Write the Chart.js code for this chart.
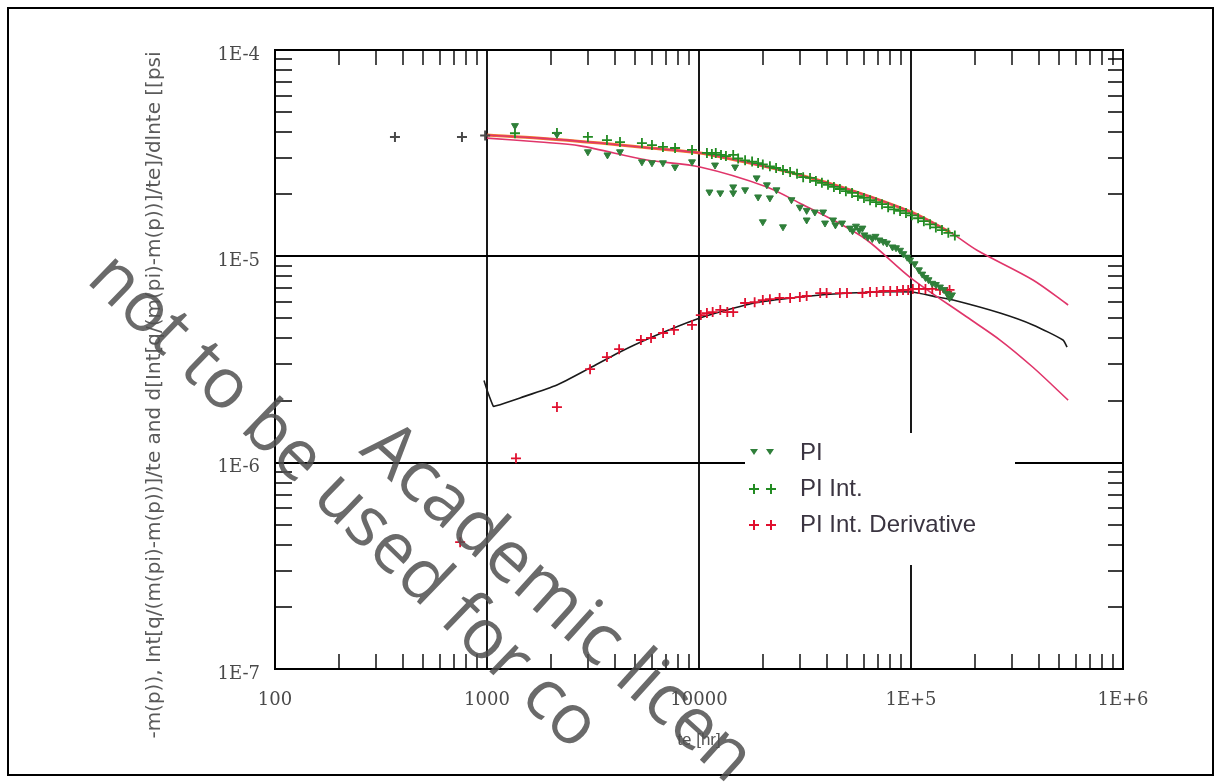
<!DOCTYPE html>
<html>
<head>
<meta charset="utf-8">
<script src="https://cdn.jsdelivr.net/npm/chart.js@4.4.1/dist/chart.umd.min.js"></script>
<style>
  html, body { margin: 0; padding: 0; background: #fff; }
  #wrap { width: 1221px; height: 783px; }
</style>
</head>
<body>
<div id="wrap"><canvas id="c" width="1221" height="783"></canvas></div>
<script>
// ---------- data ----------
const xTickValues = [100, 1000, 10000, 100000, 1000000];
const xTickLabels = ['100', '1000', '10000', '1E+5', '1E+6'];
const yTickValues = [1e-7, 1e-6, 1e-5, 1e-4];
const yTickLabels = ['1E-7', '1E-6', '1E-5', '1E-4'];

const xTitle = 'te [hr]';
const yTitle = '-m(p)), Int[q/(m(pi)-m(p))]/te and d[Int[q/(m(pi)-m(p))]/te]/dlnte [[psi';
const legendLabels = ['PI', 'PI Int.', 'PI Int. Derivative'];
const watermarkTexts = ['not to be used for co', 'Academic licen'];

// PI (green down triangles)
const piX = [1355, 2138, 2992, 3700, 4240, 5380, 6000, 6760, 7710, 9270,
  11200, 11900, 12600, 14500, 14500, 14800, 16500, 18700, 19000, 20000,
  20900, 21600, 23200, 24900, 27300, 29900, 32200, 32200, 35200, 38500,
  39300, 42900, 44000, 47300, 51500, 53000, 55000, 57000, 59000, 60300,
  62600, 65700, 68000, 71000, 74000, 77000, 81800, 85000, 88800, 92000,
  96000, 99000, 104000, 109000, 113000, 117000, 121000, 126000, 131000, 137000,
  143000, 148000, 152000, 156000];
const piY = [4.3e-5, 3.9e-5, 3.21e-5, 3.1e-5, 3.21e-5, 2.87e-5, 2.84e-5, 2.84e-5, 2.71e-5, 2.87e-5,
  2.05e-5, 2.77e-5, 2.03e-5, 2.17e-5, 2.03e-5, 2.71e-5, 2.10e-5, 2.40e-5, 1.94e-5, 1.47e-5,
  2.22e-5, 1.92e-5, 2.10e-5, 1.39e-5, 1.88e-5, 1.73e-5, 1.67e-5, 1.50e-5, 1.64e-5, 1.64e-5,
  1.45e-5, 1.50e-5, 1.42e-5, 1.45e-5, 1.37e-5, 1.33e-5, 1.40e-5, 1.34e-5, 1.37e-5, 1.27e-5,
  1.24e-5, 1.22e-5, 1.25e-5, 1.20e-5, 1.18e-5, 1.16e-5, 1.11e-5, 1.10e-5, 1.07e-5, 1.03e-5,
  9.9e-6, 9.6e-6, 9.2e-6, 8.6e-6, 8.2e-6, 7.9e-6, 7.7e-6, 7.4e-6, 7.3e-6, 7.1e-6,
  6.9e-6, 6.6e-6, 6.3e-6, 6.5e-6];

// PI Int. (green crosses)
const piIntX = [1355, 2138, 2992, 3680, 4240, 5380, 6000, 6760, 7710, 9270,
  10900, 11500, 12000, 12700, 13400, 14500, 15300, 16500, 17800, 19000,
  20000, 21600, 23100, 24900, 26900, 29000, 31000, 33400, 35600, 38000,
  40600, 43300, 46200, 49300, 52700, 56200, 60000, 64100, 68400, 73000,
  78000, 83200, 88800, 94700, 101000, 108000, 115000, 123000, 131000, 140000,
  150000, 161000];
const piIntY = [3.95e-5, 3.96e-5, 3.79e-5, 3.66e-5, 3.58e-5, 3.54e-5, 3.46e-5, 3.39e-5, 3.35e-5, 3.28e-5,
  3.17e-5, 3.13e-5, 3.17e-5, 3.10e-5, 3.06e-5, 3.10e-5, 2.98e-5, 2.92e-5, 2.88e-5, 2.83e-5,
  2.79e-5, 2.73e-5, 2.68e-5, 2.62e-5, 2.56e-5, 2.51e-5, 2.42e-5, 2.40e-5, 2.32e-5, 2.27e-5,
  2.22e-5, 2.17e-5, 2.12e-5, 2.07e-5, 2.03e-5, 1.96e-5, 1.92e-5, 1.87e-5, 1.83e-5, 1.79e-5,
  1.73e-5, 1.69e-5, 1.66e-5, 1.62e-5, 1.58e-5, 1.53e-5, 1.48e-5, 1.43e-5, 1.38e-5, 1.34e-5,
  1.30e-5, 1.26e-5];

// early points (dark crosses)
const earlyX = [368, 762, 980];
const earlyY = [3.79e-5, 3.79e-5, 3.85e-5];

// PI Int. Derivative (red crosses)
const derX = [747, 1370, 2138, 3063, 3680, 4200, 5320, 5940, 6770, 7620,
  9270, 10200, 10900, 11600, 12600, 13600, 14500, 16500, 18300, 20000,
  21600, 24000, 26900, 29900, 32200, 37300, 40000, 46200, 49900, 59000,
  64100, 68900, 74100, 79800, 86000, 91700, 97000, 102000, 109000, 117000,
  126000, 137000, 148000, 152000];
const derY = [4.12e-7, 1.05e-6, 1.86e-6, 2.84e-6, 3.25e-6, 3.55e-6, 3.93e-6, 4.02e-6, 4.25e-6, 4.40e-6,
  4.65e-6, 5.19e-6, 5.31e-6, 5.37e-6, 5.50e-6, 5.37e-6, 5.37e-6, 5.94e-6, 5.99e-6, 6.14e-6,
  6.20e-6, 6.28e-6, 6.28e-6, 6.35e-6, 6.43e-6, 6.64e-6, 6.64e-6, 6.64e-6, 6.64e-6, 6.64e-6,
  6.72e-6, 6.72e-6, 6.79e-6, 6.79e-6, 6.79e-6, 6.87e-6, 6.87e-6, 6.95e-6, 6.95e-6, 6.95e-6,
  6.95e-6, 6.87e-6, 6.72e-6, 6.87e-6];

// model curves
const upperX = [1000, 1778, 3412, 5870, 10100, 17400, 29900, 51500, 100000, 152700, 204800, 376000, 551000];
const upperY = [3.87e-5, 3.74e-5, 3.54e-5, 3.35e-5, 3.17e-5, 2.83e-5, 2.48e-5, 2.10e-5, 1.64e-5, 1.31e-5, 1.07e-5, 7.68e-6, 5.81e-6];
const lowerX = [1000, 1778, 2748, 5690, 10100, 20900, 29900, 42900, 61900, 100000, 183500, 263000, 376000, 551000];
const lowerY = [3.74e-5, 3.58e-5, 3.43e-5, 2.93e-5, 2.71e-5, 2.17e-5, 1.81e-5, 1.50e-5, 1.20e-5, 7.85e-6, 5.08e-6, 3.93e-6, 2.90e-6, 2.01e-6];
const derModelX = [968, 1000, 1070, 1092, 1432, 2138, 3063, 4240, 5870, 10100, 17400, 29900, 51500, 100000, 133000, 158000, 263000, 376000, 521000, 545000];
const derModelY = [2.5e-6, 2.25e-6, 1.88e-6, 1.88e-6, 2.06e-6, 2.38e-6, 2.88e-6, 3.44e-6, 4.02e-6, 5.02e-6, 5.88e-6, 6.35e-6, 6.64e-6, 6.72e-6, 6.35e-6, 6.14e-6, 5.31e-6, 4.65e-6, 3.93e-6, 3.63e-6];

// ---------- build ----------
const pts = (xs, ys) => xs.map((v, i) => ({ x: v, y: ys[i] }));
const orangeCount = 10; // portion of the upper model covered by the data

const GREEN = '#228b22';
const TRI_GREEN = '#2f7f3a';
const RED = '#e0102f';
const PINK = '#e0356a';

const framePlugin = {
  id: 'frame',
  beforeDatasetsDraw(chart) {
    const { ctx, chartArea: a, scales: { x, y } } = chart;
    ctx.save();
    ctx.strokeStyle = '#000';
    ctx.lineWidth = 1.8;
    ctx.beginPath();
    xTickValues.forEach(v => {
      const px = Math.round(x.getPixelForValue(v));
      ctx.moveTo(px, a.top); ctx.lineTo(px, a.bottom);
    });
    yTickValues.forEach(v => {
      const py = Math.round(y.getPixelForValue(v));
      ctx.moveTo(a.left, py); ctx.lineTo(a.right, py);
    });
    ctx.stroke();
    // minor ticks
    ctx.lineWidth = 1.4;
    ctx.beginPath();
    const tl = 15;
    for (let i = 0; i < xTickValues.length - 1; i++) {
      for (let k = 2; k <= 9; k++) {
        const px = Math.round(x.getPixelForValue(xTickValues[i] * k));
        ctx.moveTo(px, a.bottom); ctx.lineTo(px, a.bottom - tl);
        ctx.moveTo(px, a.top); ctx.lineTo(px, a.top + tl);
      }
    }
    for (let i = 0; i < yTickValues.length - 1; i++) {
      for (let k = 2; k <= 9; k++) {
        const py = Math.round(y.getPixelForValue(yTickValues[i] * k));
        ctx.moveTo(a.left, py); ctx.lineTo(a.left + tl + 2, py);
        ctx.moveTo(a.right, py); ctx.lineTo(a.right - tl, py);
      }
    }
    ctx.stroke();
    ctx.lineWidth = 2;
    ctx.strokeRect(a.left, a.top, a.right - a.left, a.bottom - a.top);
    ctx.restore();
  },
  afterDraw(chart) {
    const { ctx } = chart;
    ctx.save();
    // outer frame
    ctx.strokeStyle = '#000';
    ctx.lineWidth = 2;
    ctx.strokeRect(8, 8, chart.width - 16, chart.height - 16);

    // y title
    ctx.save();
    ctx.translate(155, 395);
    ctx.rotate(-Math.PI / 2);
    ctx.fillStyle = '#5a5a5a';
    ctx.font = '20px "DejaVu Sans"';
    ctx.textAlign = 'center';
    ctx.textBaseline = 'middle';
    ctx.fillText(yTitle, 0, 0);
    ctx.restore();

    // legend
    ctx.fillStyle = '#fff';
    ctx.fillRect(745, 433, 270, 132);
    const rows = [453, 489, 525];
    ctx.font = '24px "Liberation Sans"';
    ctx.textBaseline = 'middle';
    ctx.textAlign = 'left';
    legendLabels.forEach((lab, i) => {
      ctx.fillStyle = '#3a3440';
      ctx.fillText(lab, 800, rows[i]);
    });
    // legend markers
    const tri = (cx, cy) => {
      ctx.beginPath();
      ctx.moveTo(cx - 4, cy - 3); ctx.lineTo(cx + 4, cy - 3); ctx.lineTo(cx, cy + 3); ctx.closePath();
      ctx.fill();
    };
    const cross = (cx, cy, col) => {
      ctx.strokeStyle = col; ctx.lineWidth = 2;
      ctx.beginPath();
      ctx.moveTo(cx - 5, cy); ctx.lineTo(cx + 5, cy);
      ctx.moveTo(cx, cy - 5); ctx.lineTo(cx, cy + 5);
      ctx.stroke();
    };
    ctx.fillStyle = TRI_GREEN;
    tri(754, rows[0] - 1); tri(770, rows[0] - 1);
    cross(754, rows[1], GREEN); cross(771, rows[1], GREEN);
    cross(754, rows[2], RED); cross(771, rows[2], RED);

    // watermark
    const wm = [
      { x: 85, y: 281, a: 44, s: 70 },
      { x: 358, y: 452, a: 42, s: 72 }
    ];
    ctx.fillStyle = 'rgba(80,80,80,0.85)';
    ctx.textBaseline = 'alphabetic';
    watermarkTexts.forEach((t, i) => {
      ctx.save();
      ctx.font = wm[i].s + 'px "Open Sans"';
      ctx.translate(wm[i].x, wm[i].y);
      ctx.rotate(wm[i].a * Math.PI / 180);
      ctx.fillText(t, 0, 0);
      ctx.restore();
    });
    ctx.restore();
  }
};

new Chart(document.getElementById('c'), {
  type: 'scatter',
  data: {
    datasets: [
      { label: 'PI', data: pts(piX, piY), pointStyle: 'triangle', rotation: 180, pointRadius: 4,
        backgroundColor: TRI_GREEN, borderColor: TRI_GREEN, borderWidth: 1, order: 1 },
      { label: 'PI Int.', data: pts(piIntX, piIntY), pointStyle: 'cross', pointRadius: 5,
        borderColor: GREEN, borderWidth: 1.8, order: 2 },
      { label: 'PI Int. Derivative', data: pts(derX, derY), pointStyle: 'cross', pointRadius: 5,
        borderColor: RED, borderWidth: 1.8, order: 3 },
      { label: 'early', data: pts(earlyX, earlyY), pointStyle: 'cross', pointRadius: 5,
        borderColor: '#4a4a4a', borderWidth: 2, order: 4 },
      { label: 'upper model', data: pts(upperX, upperY), showLine: true, pointRadius: 0,
        borderColor: PINK, borderWidth: 1.6, tension: 0.3, order: 5 },
      { label: 'upper model data span', data: pts(upperX.slice(0, orangeCount), upperY.slice(0, orangeCount)),
        showLine: true, pointRadius: 0, borderColor: '#f07a2a', borderWidth: 3, tension: 0.3, order: 6 },
      { label: 'lower model', data: pts(lowerX, lowerY), showLine: true, pointRadius: 0,
        borderColor: PINK, borderWidth: 1.6, tension: 0.3, order: 5 },
      { label: 'derivative model', data: pts(derModelX, derModelY), showLine: true, pointRadius: 0,
        borderColor: '#1a1a1a', borderWidth: 1.6, tension: 0.2, order: 5 }
    ]
  },
  options: {
    responsive: false,
    animation: false,
    devicePixelRatio: 1,
    layout: { padding: { left: 8, top: 50, right: 98, bottom: 8 } },
    plugins: { legend: { display: false }, tooltip: { enabled: false } },
    scales: {
      x: {
        type: 'logarithmic', min: 100, max: 1000000,
        afterBuildTicks: s => { s.ticks = xTickValues.map(v => ({ value: v })); },
        afterFit: s => { s.height = 783 - 8 - 669; },
        grid: { display: false, drawTicks: false },
        border: { display: false },
        ticks: {
          autoSkip: false, maxRotation: 0, padding: 21, color: '#4a4a4a',
          font: { family: 'DejaVu Serif', size: 18 },
          callback: v => xTickLabels[xTickValues.indexOf(v)]
        },
        title: { display: true, text: xTitle, color: '#555',
          font: { family: 'Liberation Sans', size: 17 }, padding: { top: 0, bottom: 24 } }
      },
      y: {
        type: 'logarithmic', min: 1e-7, max: 1e-4,
        afterBuildTicks: s => { s.ticks = yTickValues.map(v => ({ value: v })); },
        afterFit: s => { s.width = 275 - 8; },
        grid: { display: false, drawTicks: false },
        border: { display: false },
        ticks: {
          autoSkip: false, padding: 15, color: '#4a4a4a', labelOffset: 5,
          font: { family: 'DejaVu Serif', size: 18 },
          callback: v => yTickLabels[yTickValues.indexOf(v)]
        }
      }
    }
  },
  plugins: [framePlugin]
});
</script>
</body>
</html>
